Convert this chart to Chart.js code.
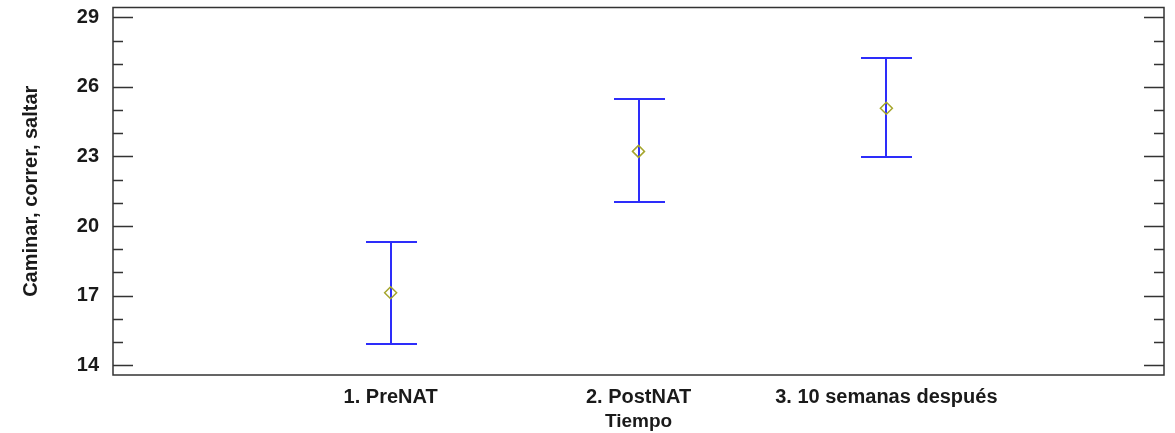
<!DOCTYPE html>
<html>
<head>
<meta charset="utf-8">
<script src="https://cdn.jsdelivr.net/npm/chart.js@4/dist/chart.umd.min.js"></script>
<style>
  html, body { margin: 0; padding: 0; background: #fff; }
</style>
</head>
<body>
<canvas id="chart" width="1175" height="433"></canvas>
<script>
// ========== Data ==========

const groups = ['1. PreNAT', '2. PostNAT', '3. 10 semanas después'];
const groupPos = [1, 2, 3];
const means = [17.12, 23.22, 25.08];
const lower = [14.9, 21.04, 22.98];
const upper = [19.31, 25.47, 27.25];
const yTicks = [14, 17, 20, 23, 26, 29];
const yMinorTicks = [15, 16, 18, 19, 21, 22, 24, 25, 27, 28];

const FONT = "'Liberation Sans', Arial, sans-serif";
const BAR_COLOR = 'rgb(45, 45, 250)';
const TEXT_COLOR = '#1a1a1a';

// ========== Frame, inward ticks, error bars ==========

const framePlugin = {
  id: 'framePlugin',
  beforeDatasetsDraw(chart) {
    const { ctx, chartArea: a, scales: { x, y } } = chart;
    ctx.save();

    // error bars
    ctx.strokeStyle = BAR_COLOR;
    ctx.lineWidth = 2;
    groupPos.forEach((g, i) => {
      const px = Math.round(x.getPixelForValue(g));
      const top = Math.round(y.getPixelForValue(upper[i]));
      const bot = Math.round(y.getPixelForValue(lower[i]));
      ctx.beginPath();
      ctx.moveTo(px, top);
      ctx.lineTo(px, bot);
      ctx.moveTo(px - 25, top);
      ctx.lineTo(px + 26, top);
      ctx.moveTo(px - 25, bot);
      ctx.lineTo(px + 26, bot);
      ctx.stroke();
    });

    // ticks on both sides
    ctx.strokeStyle = '#333';
    ctx.lineWidth = 1.5;
    const tick = (v, len) => {
      const py = Math.round(y.getPixelForValue(v)) + 0.5;
      ctx.beginPath();
      ctx.moveTo(a.left, py);
      ctx.lineTo(a.left + len, py);
      ctx.moveTo(a.right, py);
      ctx.lineTo(a.right - len, py);
      ctx.stroke();
    };
    yTicks.forEach(v => tick(v, 20));
    yMinorTicks.forEach(v => tick(v, 10));

    // frame
    ctx.lineWidth = 1.5;
    ctx.strokeRect(a.left, a.top, a.right - a.left, a.bottom - a.top);
    ctx.restore();
  },
};

// ========== Chart ==========

new Chart(document.getElementById('chart'), {
  type: 'scatter',
  data: {
    datasets: [{
      label: 'Media',
      data: groupPos.map((g, i) => ({ x: g, y: means[i] })),
      pointStyle: 'rectRot',
      pointRadius: 6,
      pointHoverRadius: 6,
      borderColor: '#a5a52c',
      backgroundColor: 'rgba(0,0,0,0)',
      borderWidth: 1.5,
    }],
  },
  options: {
    responsive: false,
    animation: false,
    devicePixelRatio: 1,
    layout: { padding: { top: 7, right: 11, left: 0, bottom: 0 } },
    plugins: {
      legend: { display: false },
      tooltip: { enabled: false },
    },
    scales: {
      x: {
        type: 'linear',
        min: -0.12,
        max: 4.12,
        afterBuildTicks: (scale) => { scale.ticks = groupPos.map(v => ({ value: v })); },
        afterFit: (scale) => {
          scale.height = 58;
          scale.paddingLeft = 0;
          scale.paddingRight = 0;
        },
        grid: { display: false, drawTicks: false },
        border: { display: false },
        ticks: {
          padding: 10,
          autoSkip: false,
          maxRotation: 0,
          color: TEXT_COLOR,
          font: { family: FONT, size: 20, weight: 'bold' },
          callback: (v) => groups[groupPos.indexOf(v)] || '',
        },
        title: {
          display: true,
          text: 'Tiempo',
          color: TEXT_COLOR,
          padding: { top: 0, bottom: 0 },
          font: { family: FONT, size: 19, weight: 'bold' },
        },
      },
      y: {
        min: 13.57,
        max: 29.43,
        afterBuildTicks: (scale) => { scale.ticks = yTicks.map(v => ({ value: v })); },
        afterFit: (scale) => {
          scale.width = 113;
          scale.paddingTop = 0;
          scale.paddingBottom = 0;
        },
        grid: { display: false, drawTicks: false },
        border: { display: false },
        ticks: {
          padding: 14,
          color: TEXT_COLOR,
          font: { family: FONT, size: 20, weight: 'bold' },
        },
        title: {
          display: true,
          text: 'Caminar, correr, saltar',
          color: TEXT_COLOR,
          padding: { top: 19, bottom: 0 },
          font: { family: FONT, size: 20, weight: 'bold' },
        },
      },
    },
  },
  plugins: [framePlugin],
});
</script>
</body>
</html>
